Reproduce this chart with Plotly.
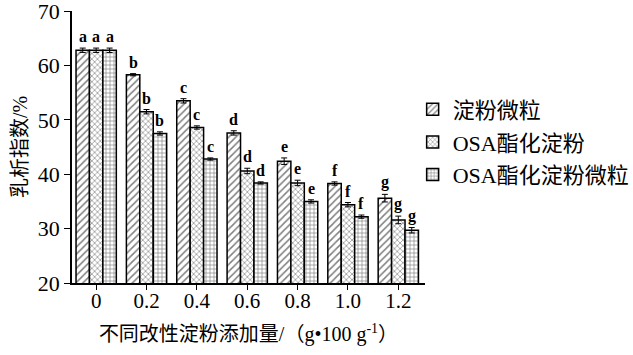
import plotly.graph_objects as go

categories = ["0", "0.2", "0.4", "0.6", "0.8", "1.0", "1.2"]
series_names = ["淀粉微粒", "OSA酯化淀粉", "OSA酯化淀粉微粒"]
values_s1 = [62.8, 58.3, 53.5, 47.6, 42.4, 38.3, 35.6]
values_s2 = [62.8, 51.5, 48.6, 40.6, 38.4, 34.4, 31.6]
values_s3 = [62.8, 47.5, 42.8, 38.4, 35.0, 32.2, 29.7]
errors_s1 = [0.4, 0.2, 0.4, 0.4, 0.6, 0.3, 0.7]
errors_s2 = [0.4, 0.4, 0.3, 0.5, 0.5, 0.4, 0.7]
errors_s3 = [0.4, 0.3, 0.2, 0.2, 0.3, 0.3, 0.5]
letters = ["a", "b", "c", "d", "e", "f", "g"]
y_ticks = [20, 30, 40, 50, 60, 70]

values = [values_s1, values_s2, values_s3]
errors = [errors_s1, errors_s2, errors_s3]
shapes = ["/", "x", "+"]
sizes = [5, 4, 4]

SERIF = "Liberation Serif, Times New Roman, Noto Sans CJK SC, serif"
BARGAP = 0.2

fig = go.Figure()
for k, (name, v, e, sh, sz) in enumerate(zip(series_names, values, errors, shapes, sizes)):
    fig.add_trace(go.Bar(
        name=name, x=categories, y=v, legendgroup="g%d" % k,
        error_y=dict(type="data", array=e, color="black", thickness=1, width=3),
        marker=dict(color="white", line=dict(color="black", width=1.5),
                    pattern=dict(shape=sh, fgcolor="black", bgcolor="white",
                                 size=sz, solidity=0.3)),
    ))

bw = (1 - BARGAP) / 3
for j, (v, e) in enumerate(zip(values, errors)):
    for i, (val, err) in enumerate(zip(v, e)):
        fig.add_annotation(x=i + (j - 1) * bw, y=val + err, text="<b>%s</b>" % letters[i],
                           showarrow=False, yanchor="bottom", yshift=1,
                           font=dict(family=SERIF, size=16, color="black"))

fig.update_layout(
    width=633, height=355, barmode="group", bargap=BARGAP, bargroupgap=0,
    plot_bgcolor="white", paper_bgcolor="white",
    margin=dict(l=72, r=208, t=11, b=72, autoexpand=False),
    font=dict(family=SERIF, color="black", size=18),
    legend=dict(x=0.965, y=0.715, xanchor="left", yanchor="top",
                font=dict(family=SERIF, size=22), tracegroupgap=1,
                traceorder="grouped", bgcolor="rgba(0,0,0,0)"),
)
fig.update_xaxes(
    type="category", range=[-0.48, 6.53], automargin=False,
    showline=True, linecolor="black", linewidth=1.5,
    ticks="outside", ticklen=5, tickwidth=1.2, tickcolor="black",
    tickfont=dict(size=21), showgrid=False, ticklabelstandoff=-7,
    title=dict(text="不同改性淀粉添加量/（g•100 g<sup>-1</sup>）", font=dict(size=20), standoff=15),
)
fig.update_yaxes(
    range=[20, 70.02], tickvals=y_ticks, automargin=False,
    showline=True, linecolor="black", linewidth=1.5,
    ticks="outside", ticklen=6, tickwidth=1.2, tickcolor="black",
    tickfont=dict(size=22), showgrid=False, zeroline=False,
    ticklabeloverflow="allow",
    title=dict(text="乳析指数/%", font=dict(size=20), standoff=5),
)

fig.write_html("out.html", config={"displayModeBar": False},
               post_script="document.body.style.margin='0px';")
